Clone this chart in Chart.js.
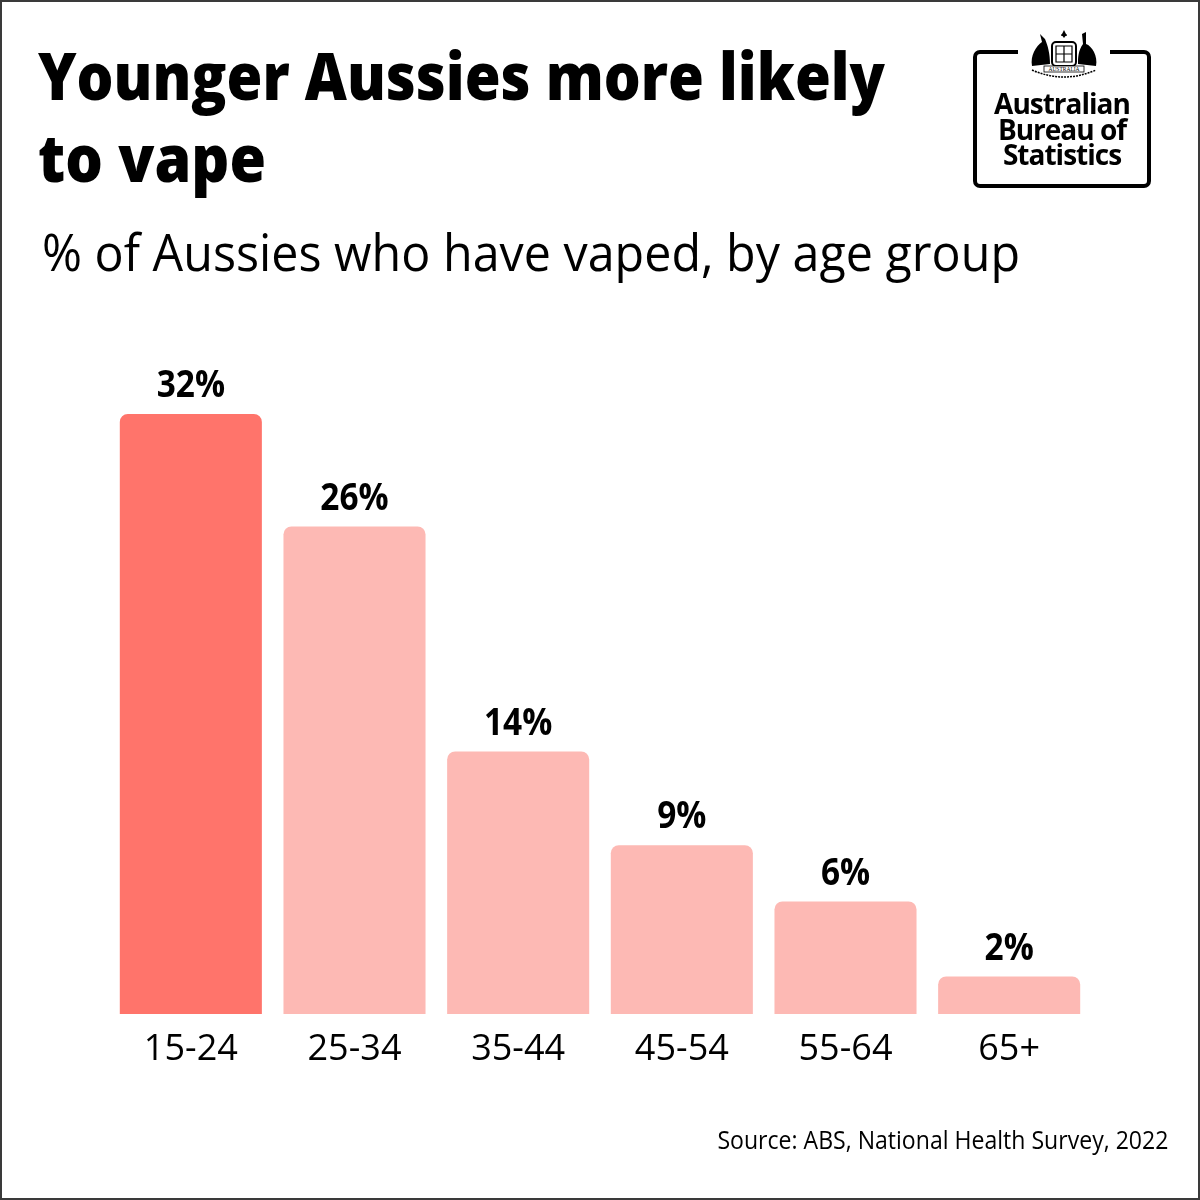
<!DOCTYPE html>
<html>
<head>
<meta charset="utf-8">
<script src="https://cdn.jsdelivr.net/npm/chart.js@4.4.1/dist/chart.umd.min.js"></script>
<style>
  html, body { margin: 0; padding: 0; background: #fff; }
  #wrap { position: relative; width: 1200px; height: 1200px; overflow: hidden; background: #fff; }
  #frame { position: absolute; left: 0; top: 0; width: 1196px; height: 1196px; border: 2px solid #3a3a3a; pointer-events: none; }
  canvas { position: absolute; left: 0; top: 0; }
  .txt { position: absolute; white-space: nowrap; color: #000; line-height: 1; }
  .title { font-family: "Open Sans", sans-serif; font-weight: 800; font-size: 65px; left: 38px; transform-origin: left top; }
  .sub { font-family: "Open Sans", sans-serif; font-size: 52px; left: 42px; top: 225px; transform-origin: left top; }
  .source { font-family: "Open Sans", sans-serif; font-size: 26px; right: 32px; top: 1126px; transform-origin: right top; }
  #logo { position: absolute; left: 973px; top: 50px; width: 170px; height: 130px; border: 4px solid #000; border-radius: 7px; }
  #gap { position: absolute; left: 1018px; top: 40px; width: 92px; height: 20px; background: #fff; }
  .logotxt { position: absolute; left: 973px; width: 178px; text-align: center; font-family: "Open Sans", sans-serif; font-weight: 700; font-size: 28px; letter-spacing: -1px; line-height: 1; transform-origin: center top; }
  #crest { position: absolute; left: 1022px; top: 26px; width: 84px; height: 56px; }
</style>
</head>
<body>
<div id="wrap">
  <canvas id="vapeChart" width="1200" height="1200"></canvas>
  <div class="txt title" id="t1" style="top:43px">Younger Aussies more likely</div>
  <div class="txt title" id="t2" style="top:125px">to vape</div>
  <div class="txt sub" id="sub">% of Aussies who have vaped, by age group</div>
  <div class="txt source" id="src">Source: ABS, National Health Survey, 2022</div>
  <div id="logo"></div>
  <div id="gap"></div>
  <svg id="crest" viewBox="0 0 84 56">
    <path d="M10 40 C8 30 14 20 20 16 L18 8 L23 13 C26 20 28 28 28 38 Z" fill="#000"/>
    <path d="M74 40 C76 30 70 20 64 18 L64 6 L60 8 L61 18 C56 25 56 32 56 38 Z" fill="#000"/>
    <rect x="30" y="16" width="24" height="24" rx="4" fill="#fff" stroke="#000" stroke-width="2"/>
    <path d="M34 20h16v16h-16z M42 20v16 M34 28h16" fill="none" stroke="#000" stroke-width="1.2"/>
    <path d="M42 4 l3 6 l-6 0 z M42 12 l-3 -4 l6 0 z" fill="#000"/>
    <rect x="22" y="40" width="40" height="6" fill="#fff" stroke="#000" stroke-width="0.8"/>
    <text x="42" y="45" font-size="5.5" text-anchor="middle" font-family="Liberation Serif, serif">AUSTRALIA</text>
    <path d="M10 44 Q42 58 74 44" fill="none" stroke="#000" stroke-width="1.5" stroke-dasharray="2 1"/>
  </svg>
  <div class="logotxt" id="l1" style="top:89px">Australian</div>
  <div class="logotxt" id="l2" style="top:115px">Bureau of</div>
  <div class="logotxt" id="l3" style="top:140px">Statistics</div>
  <div id="frame"></div>
</div>
<script>
const ageGroups = ["15-24", "25-34", "35-44", "45-54", "55-64", "65+"];
const vapedPct = [32, 26, 14, 9, 6, 2];
const barColours = ["#ff746b", "#fdb9b4", "#fdb9b4", "#fdb9b4", "#fdb9b4", "#fdb9b4"];

// squeeze the html text to the widths of the reference
function fitWidth(id, target) {
    const el = document.getElementById(id);
    const w = el.getBoundingClientRect().width;
    el.style.transform = "scaleX(" + (target / w) + ")";
}
fitWidth("t1", 847);
fitWidth("t2", 228);
fitWidth("sub", 978);
fitWidth("src", 451);

const valueLabels = {
    id: "valueLabels",
    afterDatasetsDraw(chart) {
        const ctx = chart.ctx;
        const meta = chart.getDatasetMeta(0);
        ctx.save();
        ctx.fillStyle = "#000";
        ctx.font = "bold 38px 'Open Sans', sans-serif";
        ctx.textAlign = "center";
        ctx.textBaseline = "alphabetic";
        meta.data.forEach((bar, i) => {
            ctx.save();
            ctx.translate(bar.x, bar.y - 17);
            ctx.scale(0.88, 1);
            ctx.fillText(vapedPct[i] + "%", 0, 0);
            ctx.restore();
        });
        ctx.restore();
    }
};

const vapeChart = document.getElementById("vapeChart");

new Chart(vapeChart, {
    type: 'bar',
    data: {
        labels: ageGroups,
        datasets: [{
            data: vapedPct,
            backgroundColor: barColours,
            borderRadius: { topLeft: 8, topRight: 8, bottomLeft: 0, bottomRight: 0 },
            borderSkipped: 'bottom',
            categoryPercentage: 1,
            barPercentage: 0.868
        }]
    },
    options: {
        responsive: false,
        animation: false,
        devicePixelRatio: 1,
        layout: { padding: { left: 109, right: 109, top: 264, bottom: 0 } },
        plugins: {
            legend: { display: false },
            tooltip: { enabled: false }
        },
        scales: {
            x: {
                grid: { display: false, drawTicks: false },
                border: { display: false },
                ticks: {
                    color: "#000",
                    padding: 14,
                    font: { family: "'Open Sans', sans-serif", size: 36 }
                },
                afterFit(scale) { scale.height = 186; }
            },
            y: {
                display: false,
                min: 0,
                max: 40
            }
        }
    },
    plugins: [valueLabels]
});
</script>
</body>
</html>
